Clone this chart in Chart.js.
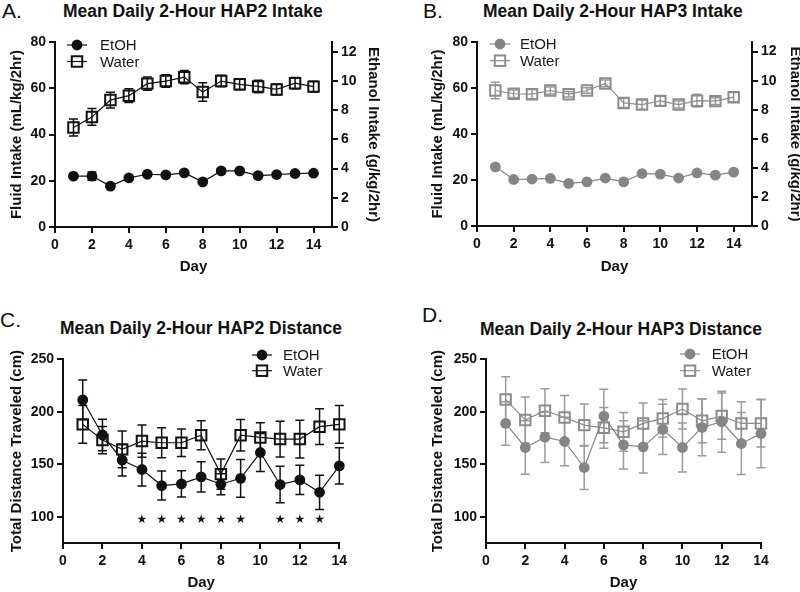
<!DOCTYPE html>
<html><head><meta charset="utf-8">
<script src="https://cdn.jsdelivr.net/npm/chart.js@4.4.1/dist/chart.umd.min.js"></script>
<style>
html,body{margin:0;padding:0;background:#fff;overflow:hidden;width:800px;height:592px;position:relative;}
canvas{position:absolute;}
.lbl{position:absolute;font-family:'Liberation Sans',Arial,sans-serif;font-size:21px;color:#111;line-height:1;white-space:nowrap;}
.ttl{position:absolute;font-family:'Liberation Sans',Arial,sans-serif;font-size:17.5px;font-weight:bold;color:#111;line-height:1;white-space:nowrap;}
</style></head><body>
<div class="lbl" style="left:2px;top:0px">A.</div>
<div class="ttl" style="left:63px;top:3px">Mean Daily 2-Hour HAP2 Intake</div>
<div class="lbl" style="left:423px;top:0px">B.</div>
<div class="ttl" style="left:483px;top:3px">Mean Daily 2-Hour HAP3 Intake</div>
<div class="lbl" style="left:0px;top:309px">C.</div>
<div class="ttl" style="left:60px;top:320px">Mean Daily 2-Hour HAP2 Distance</div>
<div class="lbl" style="left:422px;top:304px">D.</div>
<div class="ttl" style="left:480px;top:321px">Mean Daily 2-Hour HAP3 Distance</div>

<canvas id="cA" width="400" height="296" style="left:0;top:0"></canvas>
<canvas id="cB" width="410" height="296" style="left:400px;top:0"></canvas>
<canvas id="cC" width="400" height="296" style="left:0;top:296px"></canvas>
<canvas id="cD" width="400" height="296" style="left:400px;top:296px"></canvas>

<script>
// ---------- DATA ----------
const days = [1,2,3,4,5,6,7,8,9,10,11,12,13,14];
const dayTicks = [0,2,4,6,8,10,12,14];
const fluidTicks = [0,20,40,60,80];
const ethanolTicks = [0,2,4,6,8,10,12];
const distanceTicks = [100,150,200,250];

// A: HAP2 intake (EtOH in g/kg/2hr, Water in mL/kg/2hr)
const etohA = [3.48,3.48,2.80,3.36,3.61,3.57,3.70,3.09,3.84,3.84,3.52,3.59,3.66,3.68];
const etohErrA = [0.12,0.28,0.12,0.12,0.10,0.10,0.10,0.10,0.12,0.12,0.10,0.10,0.10,0.10];
const waterA = [43.0,47.6,54.9,56.8,62.0,63.1,64.8,58.4,63.1,61.7,60.8,59.5,62.2,60.7];
const waterErrA = [3.7,3.6,3.4,3.0,2.9,2.7,2.9,4.0,2.5,2.4,2.7,2.3,2.4,2.3];

// B: HAP3 intake
const etohB = [4.07,3.20,3.23,3.28,2.93,3.04,3.30,3.04,3.61,3.57,3.30,3.65,3.50,3.71];
const etohErrB = [0.10,0.10,0.10,0.10,0.10,0.10,0.10,0.10,0.10,0.10,0.10,0.10,0.10,0.10];
const waterB = [58.9,57.5,57.3,58.9,57.3,58.9,62.0,53.5,52.8,54.4,52.8,54.5,54.3,56.0];
const waterErrB = [3.6,1.6,2.0,1.5,1.2,1.2,1.5,2.0,2.0,2.0,1.5,2.8,1.5,2.0];

// C: HAP2 distance (cm)
const etohC = [211.3,177.9,153.9,145.0,129.7,131.3,138.0,131.0,136.6,161.2,130.7,135.1,123.3,148.5];
const etohErrC = [19,15,15,15.6,13.8,12.5,14.5,10,18,18,17.3,14,16.3,17.3];
const waterC = [188.0,173.1,164.2,172.1,170.5,170.5,177.7,140.6,177.7,175.6,174.0,174.0,185.8,188.0];
const waterErrC = [18,13,17.4,15.3,14.3,13,13.8,14.4,15,14,17,18,17,18];
const starDaysC = [4,5,6,7,8,9,11,12,13];
const starLevelC = 97;

// D: HAP3 distance (cm)
const etohD = [188.9,166.0,175.8,171.7,146.9,195.9,168.5,166.6,183.2,166.0,185.1,190.5,169.8,179.3];
const etohErrD = [20.7,25.5,24,23,21,25.5,23,24.8,24,23.3,27,29,29.6,32.7];
const waterD = [211.8,192.1,201.0,194.6,187.3,184.7,180.9,188.9,193.7,202.6,191.4,195.9,188.9,188.9];
const waterErrD = [21.6,22,21,21,20,19.5,18.5,19.4,18,19,21,22,20.7,22.5];

// ---------- STYLE ----------
const FONT = "'Liberation Sans', Arial, Helvetica, sans-serif";
Chart.defaults.font.family = FONT;
Chart.defaults.color = '#111';
const INK = '#111';
const GREY = '#858585';
const GREY_LINE = '#8c8c8c';
const GREY_ERR = '#9a9a9a';

const errorBarPlugin = {
  id: 'errorBars',
  beforeDatasetsDraw(chart) {
    const ctx = chart.ctx;
    chart.data.datasets.forEach((ds, i) => {
      if (!ds.errors) return;
      const meta = chart.getDatasetMeta(i);
      const xs = chart.scales[meta.xAxisID], ys = chart.scales[meta.yAxisID];
      ctx.save();
      ctx.strokeStyle = ds.errorColor || ds.borderColor;
      ctx.lineWidth = 1.5;
      ds.data.forEach((p, j) => {
        const e = ds.errors[j];
        const x = xs.getPixelForValue(p.x);
        const yt = ys.getPixelForValue(p.y + e), yb = ys.getPixelForValue(p.y - e);
        const cw = 4.5;
        ctx.beginPath();
        ctx.moveTo(x, yt); ctx.lineTo(x, yb);
        ctx.moveTo(x - cw, yt); ctx.lineTo(x + cw, yt);
        ctx.moveTo(x - cw, yb); ctx.lineTo(x + cw, yb);
        ctx.stroke();
      });
      ctx.restore();
    });
  }
};

const legendPlugin = {
  id: 'boxLegend',
  afterDraw(chart, args, opts) {
    if (!opts || opts.x === undefined) return;
    const ctx = chart.ctx;
    ctx.save();
    chart.data.datasets.forEach((ds, i) => {
      if (!ds.label || ds.hideInLegend) return;
      const y = opts.rows[i];
      const x = opts.x;
      ctx.strokeStyle = ds.borderColor;
      ctx.lineWidth = ds.borderWidth;
      ctx.beginPath(); ctx.moveTo(x - 10, y); ctx.lineTo(x + 10, y); ctx.stroke();
      if (ds.pointStyle === 'circle') {
        ctx.fillStyle = ds.pointBackgroundColor;
        ctx.beginPath(); ctx.arc(x, y, ds.pointRadius, 0, Math.PI * 2); ctx.fill();
      } else {
        const s = ds.pointRadius * Math.SQRT1_2;
        ctx.strokeStyle = ds.pointBorderColor;
        ctx.lineWidth = ds.pointBorderWidth;
        ctx.strokeRect(x - s, y - s, 2 * s, 2 * s);
      }
      ctx.fillStyle = opts.textColor || INK;
      ctx.font = '15px ' + FONT;
      ctx.textAlign = 'left';
      ctx.textBaseline = 'middle';
      ctx.fillText(ds.label, opts.textX, y + 1);
    });
    ctx.restore();
  }
};

const starPlugin = {
  id: 'stars',
  afterDatasetsDraw(chart, args, opts) {
    if (!opts || !opts.days) return;
    const ctx = chart.ctx;
    const xs = chart.scales.x, ys = chart.scales.y;
    ctx.save();
    ctx.fillStyle = INK;
    ctx.font = '12px "DejaVu Sans"';
    ctx.textAlign = 'center';
    ctx.textBaseline = 'middle';
    opts.days.forEach(d => ctx.fillText('\u2605', xs.getPixelForValue(d), ys.getPixelForValue(opts.level)));
    ctx.restore();
  }
};

function pts(vals) { return days.map((d, i) => ({ x: d, y: vals[i] })); }

function axisBase(tickList, fitKey, fitVal, title, titlePad) {
  return {
    type: 'linear',
    afterBuildTicks: s => { s.ticks = tickList.map(v => ({ value: v })); },
    afterFit: s => { s[fitKey] = fitVal; },
    grid: { display: true, drawOnChartArea: false, drawTicks: true, tickLength: 6, color: INK, lineWidth: 2 },
    border: { display: true, color: INK, width: 2 },
    ticks: { color: INK, font: { size: 14, weight: 'bold' }, padding: 3 },
    title: { display: true, text: title, color: INK, font: { size: 15, weight: 'bold' }, padding: titlePad }
  };
}

function etohDs(vals, errs, color, errColor, axis) {
  return { label: 'EtOH', data: pts(vals), errors: errs, errorColor: errColor, yAxisID: axis,
    borderColor: color, backgroundColor: color, borderWidth: 1.2, clip: false,
    pointStyle: 'circle', pointRadius: 5.4, pointHoverRadius: 5.4,
    pointBackgroundColor: color, pointBorderColor: color, pointBorderWidth: 0 };
}
function waterDs(vals, errs, color, errColor, axis) {
  return { label: 'Water', data: pts(vals), errors: errs, errorColor: errColor, yAxisID: axis,
    borderColor: color, backgroundColor: 'rgba(0,0,0,0)', borderWidth: 1.2, clip: false,
    pointStyle: 'rect', pointRadius: 7.4, pointHoverRadius: 7.4,
    pointBackgroundColor: 'rgba(0,0,0,0)', pointBorderColor: color, pointBorderWidth: 2 };
}

function intakeChart(id, cfg) {
  const x = axisBase(dayTicks, 'height', cfg.xH, 'Day', { top: 0, bottom: 20 });
  x.min = 0; x.max = 15; x.position = 'bottom'; x.ticks.padding = 4;
  const y = axisBase(fluidTicks, 'width', cfg.yW, 'Fluid Intake (mL/kg/2hr)', { top: cfg.yTitlePad, bottom: 0 });
  y.min = 0; y.max = 80; y.position = 'left';
  const y2 = axisBase(ethanolTicks, 'width', cfg.y2W, 'Ethanol Intake (g/kg/2hr)', { top: cfg.y2TitlePad, bottom: 0 });
  y2.min = 0; y2.max = 12.66; y2.position = 'right';
  return new Chart(document.getElementById(id), {
    type: 'line',
    data: { datasets: [
      etohDs(cfg.etoh, cfg.etohErr, cfg.color, cfg.errColor, 'y2'),
      waterDs(cfg.water, cfg.waterErr, cfg.wColor, cfg.errColor, 'y')
    ] },
    options: {
      responsive: false, animation: false, events: [],
      layout: { padding: { top: 42, left: 0, right: 0, bottom: 0 } },
      scales: { x, y, y2 },
      plugins: { legend: { display: false }, tooltip: { enabled: false },
        boxLegend: { x: cfg.legX, textX: cfg.legTextX, rows: cfg.legRows, textColor: '#1a1a1a' } }
    },
    plugins: [errorBarPlugin, legendPlugin]
  });
}

function distanceChart(id, cfg) {
  const x = axisBase(dayTicks, 'height', 49, 'Day', { top: 0, bottom: 0 });
  x.min = 0; x.max = 14; x.position = 'bottom'; x.ticks.padding = 4;
  const y = axisBase(distanceTicks, 'width', cfg.yW, 'Total Distance Traveled (cm)', { top: cfg.yTitlePad, bottom: 0 });
  y.min = 75; y.max = 250; y.position = 'left';
  return new Chart(document.getElementById(id), {
    type: 'line',
    data: { datasets: [
      etohDs(cfg.etoh, cfg.etohErr, cfg.color, cfg.errColor, 'y'),
      waterDs(cfg.water, cfg.waterErr, cfg.wColor, cfg.errColor, 'y')
    ] },
    options: {
      responsive: false, animation: false, events: [],
      layout: { padding: { top: 63.3, left: 0, right: cfg.padR, bottom: 0 } },
      scales: { x, y },
      plugins: { legend: { display: false }, tooltip: { enabled: false },
        boxLegend: { x: cfg.legX, textX: cfg.legTextX, rows: cfg.legRows, textColor: '#1a1a1a' },
        stars: cfg.stars || {} }
    },
    plugins: [errorBarPlugin, legendPlugin, starPlugin]
  });
}

intakeChart('cA', { etoh: etohA, etohErr: etohErrA, water: waterA, waterErr: waterErrA,
  color: INK, wColor: INK, errColor: INK, xH: 69, yW: 55, y2W: 68, yTitlePad: 8, y2TitlePad: 17.5,
  legX: 77, legTextX: 100, legRows: [45, 61.5] });

intakeChart('cB', { etoh: etohB, etohErr: etohErrB, water: waterB, waterErr: waterErrB,
  color: GREY, wColor: GREY_LINE, errColor: GREY_ERR, xH: 70, yW: 77, y2W: 58, yTitlePad: 29, y2TitlePad: 6,
  legX: 100, legTextX: 120, legRows: [44, 60.7] });

distanceChart('cC', { etoh: etohC, etohErr: etohErrC, water: waterC, waterErr: waterErrC,
  color: INK, wColor: INK, errColor: INK, yW: 63, yTitlePad: 7.7, padR: 60.7,
  legX: 262, legTextX: 283, legRows: [59, 74.7], stars: { days: starDaysC, level: starLevelC } });

distanceChart('cD', { etoh: etohD, etohErr: etohErrD, water: waterD, waterErr: waterErrD,
  color: GREY, wColor: GREY_LINE, errColor: GREY_ERR, yW: 86, yTitlePad: 29, padR: 39,
  legX: 290, legTextX: 311.7, legRows: [58, 74.7] });
</script>
</body></html>
